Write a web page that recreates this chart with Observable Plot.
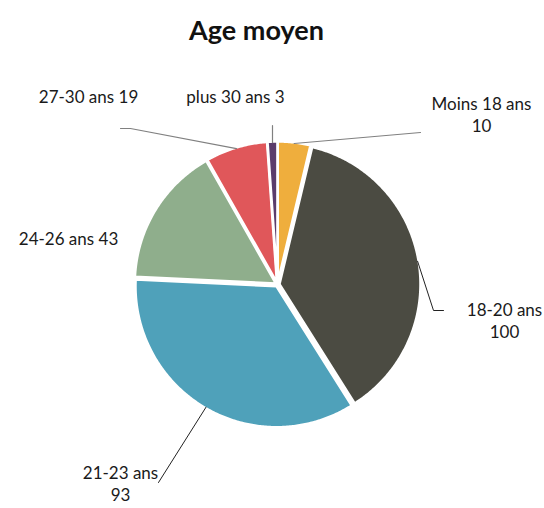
<!DOCTYPE html>
<html><head><meta charset="utf-8">
<script src="https://cdn.jsdelivr.net/npm/d3@7"></script>
<script src="https://cdn.jsdelivr.net/npm/@observablehq/plot@0.6"></script>
<style>body{margin:0;background:#fff;} #chart svg{display:block;}</style>
</head><body><div id="chart"></div>
<script>
// ---- data ----
const categories = ["Moins 18 ans", "18-20 ans", "21-23 ans", "24-26 ans", "27-30 ans", "plus 30 ans"];
const values = [10, 100, 93, 43, 19, 3];
const colors = ["#EFAE3D", "#4B4B42", "#4FA1BA", "#8FAE8C", "#E0575A", "#5B3C6B"];
const title = "Age moyen";

// ---- layout (pixel offsets from the pie centre) ----
const W = 544, H = 508, CX = 277, CY = 284, R = 141, EXPLODE = 2;
const labelLayout = {
  "Moins 18 ans": {x: 204, y: -171, twoLines: true, leader: [[143, -152]], tone: "light"},
  "18-20 ans":    {x: 227, y: 35,   twoLines: true, leader: [[156, 26], [166, 26]], tone: "dark"},
  "21-23 ans":    {x: -157, y: 198, twoLines: true, leader: [[-119, 198]], tone: "dark"},
  "24-26 ans":    {x: -209, y: -47, twoLines: false, leader: null},
  "27-30 ans":    {x: -189, y: -189, twoLines: false, leader: [[-147, -156], [-157, -156]], tone: "light"},
  "plus 30 ans":  {x: -42, y: -189, twoLines: false, leader: [[-5, -159]], tone: "light"}
};

const table = categories.map((c, i) => ({cat: c, value: values[i]}));
const arcs = d3.pie().sort(null).value(d => d.value)(table);

// slice polygons
const slicePts = [];
for (const a of arcs) {
  const mid = (a.startAngle + a.endAngle) / 2;
  const ox = EXPLODE * Math.sin(mid), oy = -EXPLODE * Math.cos(mid);
  slicePts.push({cat: a.data.cat, x: ox, y: oy});
  const n = Math.max(2, Math.ceil((a.endAngle - a.startAngle) / 0.01));
  for (let k = 0; k <= n; k++) {
    const t = a.startAngle + (a.endAngle - a.startAngle) * k / n;
    slicePts.push({cat: a.data.cat, x: ox + R * Math.sin(t), y: oy - R * Math.cos(t)});
  }
}

// leaders and labels
const lightLeaders = [], darkLeaders = [], labels = [];
for (const a of arcs) {
  const L = labelLayout[a.data.cat];
  const mid = (a.startAngle + a.endAngle) / 2;
  const text = L.twoLines ? `${a.data.cat}\n${a.data.value}` : `${a.data.cat} ${a.data.value}`;
  labels.push({x: L.x, y: L.y, text});
  if (L.leader) {
    const arr = L.tone === "dark" ? darkLeaders : lightLeaders;
    const start = {cat: a.data.cat, x: (R + 1) * Math.sin(mid), y: -(R + 1) * Math.cos(mid)};
    arr.push(start);
    for (const [x, y] of L.leader) arr.push({cat: a.data.cat, x, y});
  }
}

const font = "Lato, 'Open Sans', sans-serif";
const chart = Plot.plot({
  width: W, height: H,
  margin: 0,
  x: {domain: [-CX, W - CX], range: [0, W], axis: null},
  y: {domain: [-CY, H - CY], range: [0, H], axis: null},
  color: {domain: categories, range: colors},
  style: {background: "#fff", fontFamily: font},
  marks: [
    Plot.line(slicePts, {x: "x", y: "y", z: "cat", fill: "cat", stroke: "#fff", strokeWidth: 2.5, curve: "linear-closed", strokeLinejoin: "round"}),
    Plot.line(lightLeaders, {x: "x", y: "y", z: "cat", stroke: "#808080", strokeWidth: 1.2}),
    Plot.line(darkLeaders, {x: "x", y: "y", z: "cat", stroke: "#222", strokeWidth: 1}),
    Plot.text(labels, {x: "x", y: "y", text: "text", fontSize: 17, fill: "#1a1a1a", lineHeight: 1.3, textAnchor: "middle"}),
    Plot.text([title], {x: () => -21, y: () => -253, text: d => d, fontSize: 27, fontWeight: "bold", fill: "#111"})
  ]
});
document.getElementById("chart").append(chart);
</script>
</body></html>
